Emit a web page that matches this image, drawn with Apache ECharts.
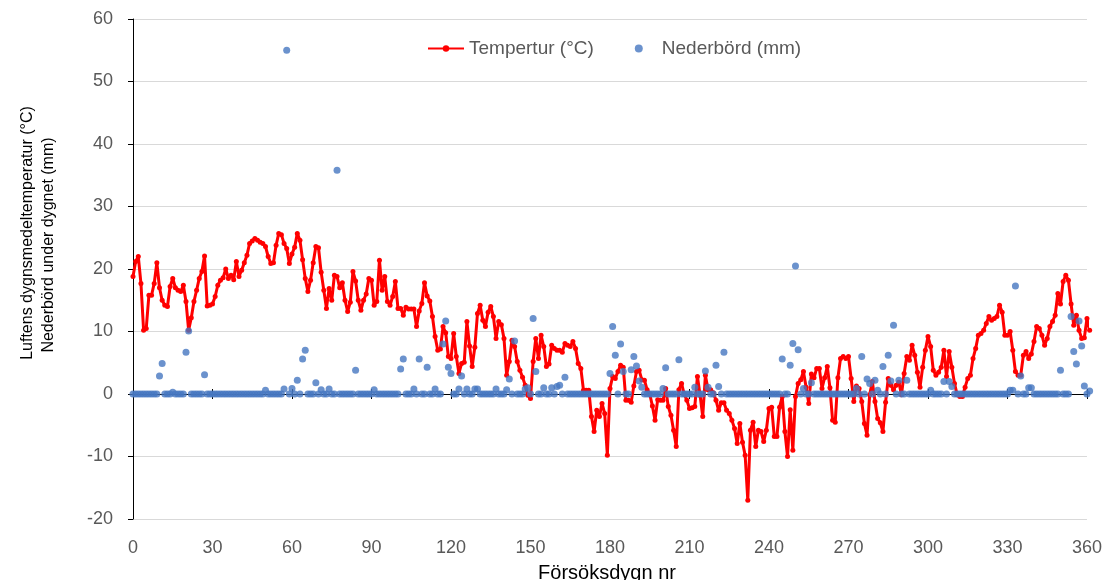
<!DOCTYPE html>
<html>
<head>
<meta charset="utf-8">
<script src="https://cdn.jsdelivr.net/npm/echarts@6/dist/echarts.min.js"></script>
<style>
  html, body { margin: 0; padding: 0; background: #ffffff; }
  #chart { width: 1105px; height: 580px; }
</style>
</head>
<body>
<div id="chart"></div>
<script>
// Axis ticks
const xTicks = [0, 30, 60, 90, 120, 150, 180, 210, 240, 270, 300, 330, 360];
const yTicks = [-20, -10, 0, 10, 20, 30, 40, 50, 60];

// Daily mean air temperature (°C), one value per trial day starting at day 0
const temperature = [
  18.8, 21.2, 22.0, 17.7, 10.2, 10.5, 15.8, 15.8, 17.7, 21.0,
  17.0, 15.0, 14.2, 14.0, 17.2, 18.5, 17.0, 16.6, 16.4, 17.4,
  14.8, 10.2, 12.2, 14.8, 16.6, 18.5, 19.6, 22.1, 14.1, 14.2,
  14.4, 15.6, 17.4, 18.2, 18.6, 20.0, 18.5, 19.0, 18.3, 21.2,
  18.8, 19.8, 21.0, 22.2, 24.1, 24.5, 24.9, 24.6, 24.3, 24.1,
  23.6, 22.0, 20.9, 21.0, 23.8, 25.7, 25.5, 24.1, 23.3, 20.9,
  22.4, 23.5, 25.7, 24.6, 21.5, 18.5, 16.4, 18.2, 21.0, 23.6,
  23.4, 19.5, 16.6, 13.7, 16.9, 15.0, 19.0, 18.8, 17.0, 17.8,
  15.0, 13.2, 14.7, 19.6, 18.1, 15.0, 13.4, 15.0, 16.0, 18.5,
  18.2, 14.2, 14.8, 21.4, 16.6, 18.8, 14.8, 14.2, 15.6, 18.0,
  13.7, 13.7, 12.6, 13.9, 13.6, 13.6, 13.6, 10.8, 13.3, 14.5,
  17.8, 15.7, 14.9, 12.4, 9.2, 7.0, 7.2, 10.8, 9.8, 6.0,
  5.7, 9.7, 6.0, 3.3, 4.9, 5.1, 11.6, 7.7, 4.4, 7.5,
  12.9, 14.2, 11.8, 10.8, 13.1, 14.0, 12.4, 8.9, 11.6, 11.1,
  8.9, 3.0, 5.2, 8.6, 7.6, 5.2, 3.8, 2.7, 1.4, -0.2,
  -0.7, 5.2, 8.9, 5.7, 9.4, 7.6, 4.4, 4.8, 7.8, 7.3,
  7.0, 7.0, 6.7, 8.1, 7.8, 7.6, 8.4, 7.3, 4.9, 4.1,
  0.6, 0.6, 0.6, -3.6, -6.0, -2.6, -3.6, -1.5, -3.1, -9.8,
  0.9, 2.8, 2.5, 3.6, 4.6, 4.3, -1.0, -1.0, -1.3, 1.3,
  3.6, 3.8, 2.3, 2.2, 0.7, 0.0, -1.9, -4.2, -0.9, -1.0,
  -1.0, 0.9, -2.0, -3.4, -5.8, -8.4, 0.7, 1.7, 0.0, -1.0,
  -2.3, -2.2, -2.0, 2.8, -0.2, -3.6, 3.0, 0.7, 0.7, 0.2,
  -1.0, -2.6, -1.4, -1.4, -2.6, -3.1, -4.2, -5.5, -7.9, -4.7,
  -7.7, -9.8, -17.0, -5.8, -4.5, -8.4, -5.8, -6.0, -7.6, -5.8,
  -2.3, -2.1, -6.8, -6.8, -2.1, -0.4, -6.0, -10.0, -2.5, -9.0,
  -0.4, 1.7, 2.3, 3.6, 1.1, -1.5, 3.2, 2.6, 4.1, 4.1,
  0.9, 2.6, 4.4, 1.0, -4.2, -4.5, 2.6, 5.7, 6.0, 5.7,
  6.0, 2.5, -1.2, 1.3, 0.9, -1.2, -4.7, -6.6, -0.1, 2.0,
  -1.2, -3.9, -4.6, -6.0, -1.3, 2.5, 1.4, 0.7, 1.4, 1.9,
  -0.1, 3.3, 6.0, 5.4, 7.8, 6.2, 3.5, 1.1, 4.3, 7.0,
  9.2, 7.6, 3.8, 3.0, 3.5, 4.3, 7.0, 2.8, 6.8, 4.3,
  1.7, -0.1, -0.4, -0.4, 1.1, 2.5, 3.0, 5.7, 7.3, 9.4,
  9.7, 10.2, 11.3, 12.4, 11.8, 12.1, 12.4, 14.2, 13.1, 9.4,
  9.4, 10.0, 7.0, 3.6, 3.0, 3.0, 6.2, 6.8, 5.7, 6.4,
  8.4, 10.8, 10.5, 9.4, 7.8, 8.9, 10.8, 11.6, 12.6, 16.1,
  14.4, 18.0, 19.0, 18.2, 14.4, 11.0, 12.6, 10.2, 8.9, 9.0,
  12.1, 10.2
];

// Precipitation during the day (mm), same day numbering
const precipitation = [
  0, 0, 0, 0, 0, 0, 0, 0, 0, 0,
  2.9, 4.9, 0, 0, 0, 0.3, 0, 0, 0, 0,
  6.7, 10.1, 0, 0, 0, 0, 0, 3.1, 0, 0,
  0, 0, 0, 0, 0, 0, 0, 0, 0, 0,
  0, 0, 0, 0, 0, 0, 0, 0, 0, 0,
  0.6, 0, 0, 0, 0, 0, 0, 0.8, 55, 0,
  0.9, 0, 2.2, 0, 5.6, 7.0, 0, 0, 0, 1.8,
  0, 0.7, 0, 0, 0.8, 0, 0, 35.8, 0, 0,
  0, 0, 0, 0, 3.8, 0, 0, 0, 0, 0,
  0, 0.7, 0, 0, 0, 0, 0, 0, 0, 0,
  0, 4.0, 5.6, 0, 0, 0, 0.8, 0, 5.6, 0,
  0, 4.3, 0, 0, 0.8, 0, 0, 8.0, 11.7, 4.3,
  3.3, 0, 0, 0.8, 2.9, 0, 0.8, 0, 0, 0.8,
  0.8, 0, 0, 0, 0, 0, 0, 0.8, 0, 0,
  0, 0.7, 2.4, 0, 8.5, 0, 0, 0, 0.8, 1.0,
  0, 12.1, 3.6, 0, 0, 1.0, 0, 0, 1.0, 0,
  1.2, 1.4, 0, 2.7, 0, 0, 0, 0, 0, 0,
  0, 0, 0, 0, 0, 0, 0, 0, 0, 0,
  3.3, 10.8, 6.2, 0, 8.0, 3.6, 0, 0, 3.9, 6.0,
  4.5, 2.1, 1.1, 0, 0, 0, 0, 0, 0, 0,
  0.9, 4.2, 0, 0, 0, 0, 5.5, 0, 0, 0,
  0, 0, 1.1, 0, 0, 0, 3.7, 1.1, 0, 0,
  4.6, 1.2, 0, 6.7, 0, 0, 0, 0, 0, 0,
  0, 0, 0, 0, 0, 0, 0, 0, 0, 0,
  0, 0, 0, 0, 0, 5.6, 0, 0, 4.6, 8.1,
  20.5, 7.1, 0, 0.9, 0, 0, 1.8, 0, 0, 0,
  0, 0, 0, 0, 0, 0, 0, 0, 0, 0,
  0, 0, 0, 0.9, 0, 6.0, 0, 2.4, 1.7, 0,
  2.2, 0.6, 0, 4.4, 0, 6.2, 2.1, 11.0, 0, 2.2,
  0, 0, 2.2, 0, 0, 0, 0, 0, 0, 0,
  0, 0.6, 0, 0, 0, 0, 2.0, 0, 2.0, 1.2,
  0, 0, 0, 0, 0, 0, 0, 0, 0, 0,
  0, 0, 0, 0, 0, 0, 0, 0, 0, 0,
  0, 0.6, 0.6, 17.3, 0, 2.9, 0, 0, 1.0, 1.0,
  0, 0, 0, 0, 0, 0, 0, 0, 0, 0,
  3.8, 0, 0, 0, 12.4, 6.8, 4.8, 11.7, 7.7, 1.3,
  0, 0.5
];

const seriesNames = ['Tempertur (°C)', 'Nederbörd (mm)'];
const yTitleLines = ['Luftens dygnsmedeltemperatur (°C)', 'Nederbörd under dygnet (mm)'];
const xTitle = 'Försöksdygn nr';

const textColor = '#595959';
const fontFamily = '"Liberation Sans", Arial, sans-serif';

const chart = echarts.init(document.getElementById('chart'), null, { renderer: 'canvas' });

const xStep = xTicks[1] - xTicks[0];
const yStep = yTicks[1] - yTicks[0];
const xMin = xTicks[0], xMax = xTicks[xTicks.length - 1];
const yMin = yTicks[0], yMax = yTicks[yTicks.length - 1];

// Axis drawn along y = 0, carrying tick marks that cross the line
function zeroAxis(inside) {
  return {
    type: 'value', min: xMin, max: xMax, interval: xStep,
    axisLine: { show: true, onZero: true, onZeroAxisIndex: 0, lineStyle: { color: '#000000', width: 1 } },
    axisTick: { show: true, inside: inside, length: 5, lineStyle: { color: '#000000', width: 1 } },
    axisLabel: { show: false },
    splitLine: { show: false }
  };
}

chart.setOption({
  animation: false,
  backgroundColor: '#ffffff',
  grid: { left: 133, right: 12, top: 19, bottom: 61, containLabel: false },
  legend: {
    left: 427, top: 39, padding: 0,
    itemWidth: 36, itemHeight: 8, itemGap: 41,
    textStyle: { color: textColor, fontSize: 19, fontFamily: fontFamily },
    data: seriesNames
  },
  xAxis: [
    {
      type: 'value', min: xMin, max: xMax, interval: xStep, position: 'bottom',
      axisLine: { show: false, onZero: false },
      axisTick: { show: false },
      axisLabel: { color: textColor, fontSize: 18, fontFamily: fontFamily, margin: 20 },
      splitLine: { show: false }
    },
    zeroAxis(false),
    zeroAxis(true)
  ],
  yAxis: {
    type: 'value', min: yMin, max: yMax, interval: yStep,
    axisLine: { show: true, onZero: false, lineStyle: { color: '#000000', width: 1 } },
    axisTick: { show: true, length: 5, lineStyle: { color: '#000000' } },
    axisLabel: { color: textColor, fontSize: 18, fontFamily: fontFamily, margin: 20 },
    splitLine: { show: true, lineStyle: { color: '#D9D9D9', width: 1 } }
  },
  graphic: [
    {
      type: 'text', x: 28, y: 233, rotation: Math.PI / 2,
      style: { text: yTitleLines[0], fill: '#000000', font: '16px ' + fontFamily, align: 'center', verticalAlign: 'middle' }
    },
    {
      type: 'text', x: 49, y: 245, rotation: Math.PI / 2,
      style: { text: yTitleLines[1], fill: '#000000', font: '16px ' + fontFamily, align: 'center', verticalAlign: 'middle' }
    },
    {
      type: 'text', x: 607, y: 573,
      style: { text: xTitle, fill: '#000000', font: '20px ' + fontFamily, align: 'center', verticalAlign: 'middle' }
    }
  ],
  series: [
    {
      name: seriesNames[0], type: 'line', xAxisIndex: 0,
      data: temperature.map((v, day) => [day, v]),
      symbol: 'circle', symbolSize: 5, showAllSymbol: true,
      clip: false, z: 2,
      lineStyle: { color: '#FF0000', width: 3 },
      itemStyle: { color: '#FF0000' }
    },
    {
      name: seriesNames[1], type: 'scatter', xAxisIndex: 0,
      data: precipitation.map((v, day) => [day, v]),
      symbol: 'circle', symbolSize: 7,
      clip: false, z: 3,
      itemStyle: { color: '#4677C0' }
    }
  ]
});
</script>
</body>
</html>
